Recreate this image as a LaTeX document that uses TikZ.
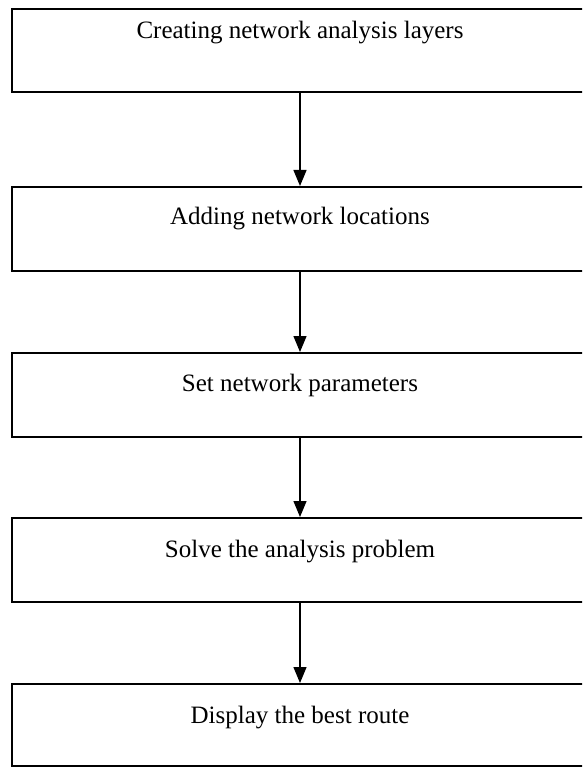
\documentclass[tikz,border=0pt]{standalone}
\usepackage{fontspec}
\setmainfont{Liberation Serif}
\usetikzlibrary{arrows.meta}
\begin{document}
\begin{tikzpicture}[x=1pt,y=-1pt,
  stepbox/.style={draw=black,line width=2pt,minimum width=576pt,inner sep=0pt,fill=none},
  label/.style={anchor=base,font=\fontsize{25}{29}\selectfont,inner sep=0pt},
  flow/.style={draw=black,line width=1.3pt,-{Triangle[length=16pt,width=13pt]}}]
\clip (0,0) rectangle (582,767);
\fill[white] (0,0) rectangle (582,767);
\node[stepbox,minimum height=83pt] (b1) at (300,50.5) {};
\node[stepbox,minimum height=84pt] (b2) at (300,229) {};
\node[stepbox,minimum height=84pt] (b3) at (300,395) {};
\node[stepbox,minimum height=84pt] (b4) at (300,560) {};
\node[stepbox,minimum height=82pt] (b5) at (300,725) {};
\node[label] (t1) at (300,39) {Creating network analysis layers};
\node[label] (t2) at (300,224) {Adding network locations};
\node[label] (t3) at (300,391) {Set network parameters};
\node[label] (t4) at (300,557) {Solve the analysis problem};
\node[label] (t5) at (300,723) {Display the best route};
\draw[flow] (b1.south) -- (b2.north);
\draw[flow] (b2.south) -- (b3.north);
\draw[flow] (b3.south) -- (b4.north);
\draw[flow] (b4.south) -- (b5.north);
\end{tikzpicture}
\end{document}
